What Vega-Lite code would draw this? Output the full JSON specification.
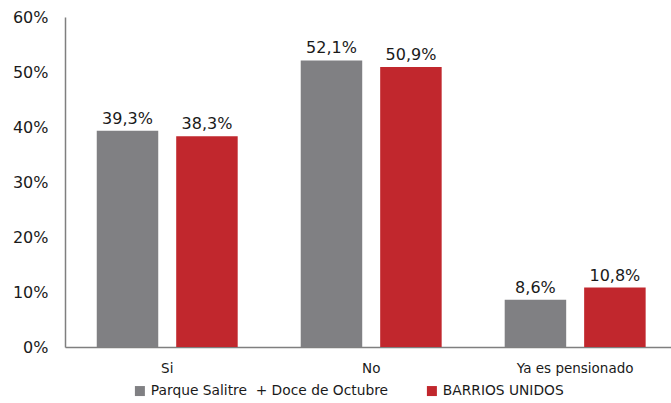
{
  "$schema": "https://vega.github.io/schema/vega-lite/v6.json",
  "width": 606,
  "height": 330,
  "autosize": {"type": "none"},
  "padding": {"left": 65, "top": 17, "right": 0, "bottom": 56},
  "background": "white",
  "config": {
    "locale": {"number": {"decimal": ",", "thousands": ".", "grouping": [3], "currency": ["$", ""]}},
    "view": {"stroke": null},
    "font": "DejaVu Sans"
  },
  "data": {
    "values": [
      {"respuesta": "Si", "grupo": "Parque Salitre\u00a0 + Doce de Octubre", "valor": 0.393},
      {"respuesta": "Si", "grupo": "BARRIOS UNIDOS", "valor": 0.383},
      {"respuesta": "No", "grupo": "Parque Salitre\u00a0 + Doce de Octubre", "valor": 0.521},
      {"respuesta": "No", "grupo": "BARRIOS UNIDOS", "valor": 0.509},
      {"respuesta": "Ya es pensionado", "grupo": "Parque Salitre\u00a0 + Doce de Octubre", "valor": 0.086},
      {"respuesta": "Ya es pensionado", "grupo": "BARRIOS UNIDOS", "valor": 0.108}
    ]
  },
  "encoding": {
    "x": {
      "field": "respuesta",
      "type": "nominal",
      "sort": ["Si", "No", "Ya es pensionado"],
      "scale": {"paddingInner": 0.309, "paddingOuter": 0.14, "align": 0.556},
      "axis": {
        "title": null,
        "labelAngle": 0,
        "ticks": false,
        "domainColor": "#7f7f7f",
        "domainWidth": 1.5,
        "labelFont": "DejaVu Sans",
        "labelFontSize": 13.5,
        "labelColor": "#1a1a1a",
        "labelPadding": 14
      }
    },
    "xOffset": {
      "field": "grupo",
      "type": "nominal",
      "sort": ["Parque Salitre\u00a0 + Doce de Octubre", "BARRIOS UNIDOS"],
      "scale": {"paddingInner": 0.226, "paddingOuter": 0}
    },
    "y": {
      "field": "valor",
      "type": "quantitative",
      "scale": {"domain": [0, 0.6], "nice": false},
      "axis": {
        "title": null,
        "format": ".0%",
        "values": [0, 0.1, 0.2, 0.3, 0.4, 0.5, 0.6],
        "grid": false,
        "ticks": false,
        "domainColor": "#7f7f7f",
        "domainWidth": 1.5,
        "labelFont": "DejaVu Sans",
        "labelFontSize": 16,
        "labelColor": "#1a1a1a",
        "labelPadding": 17
      }
    }
  },
  "layer": [
    {
      "mark": {"type": "bar"},
      "encoding": {
        "color": {
          "field": "grupo",
          "type": "nominal",
          "sort": ["Parque Salitre\u00a0 + Doce de Octubre", "BARRIOS UNIDOS"],
          "scale": {"domain": ["Parque Salitre\u00a0 + Doce de Octubre", "BARRIOS UNIDOS"], "range": ["#808083", "#c1272d"]},
          "legend": {
            "title": null,
            "orient": "none",
            "direction": "horizontal",
            "legendX": 68,
            "legendY": 367,
            "symbolType": "square",
            "symbolSize": 100,
            "symbolStrokeWidth": 0,
            "labelFont": "DejaVu Sans",
            "labelFontSize": 13.8,
            "labelColor": "#1a1a1a",
            "labelOffset": 4,
            "labelLimit": 400,
            "columnPadding": 37
          }
        }
      }
    },
    {
      "mark": {"type": "text", "baseline": "alphabetic", "dy": -7, "font": "DejaVu Sans", "fontSize": 16, "color": "#1a1a1a"},
      "encoding": {
        "text": {"field": "valor", "type": "quantitative", "format": ".1%"}
      }
    }
  ]
}
